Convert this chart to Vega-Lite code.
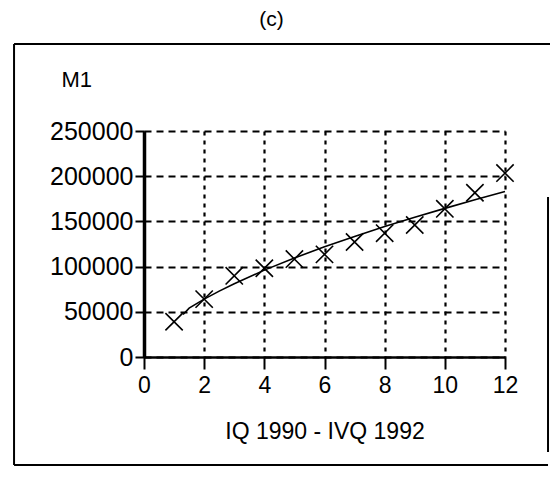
{
  "$schema": "https://vega.github.io/schema/vega-lite/v6.json",
  "autosize": "none",
  "width": 361,
  "height": 226,
  "padding": {"left": 144, "top": 131, "right": 45, "bottom": 121},
  "background": "white",
  "title": {"text": "(c)", "font": "Liberation Sans", "fontSize": 21, "fontWeight": "normal", "color": "black", "anchor": "middle", "dx": -53, "offset": 13},
  "datasets": {
    "obs": [
      {"q": 1, "m1": 39000}, {"q": 2, "m1": 64000}, {"q": 3, "m1": 89800},
      {"q": 4, "m1": 98200}, {"q": 5, "m1": 108300}, {"q": 6, "m1": 113500},
      {"q": 7, "m1": 127200}, {"q": 8, "m1": 137000}, {"q": 9, "m1": 146000},
      {"q": 10, "m1": 163900}, {"q": 11, "m1": 181700}, {"q": 12, "m1": 203500}
    ],
    "fit": [
      {"q": 1.3, "m1": 47000}, {"q": 1.5, "m1": 54000}, {"q": 2, "m1": 64000},
      {"q": 2.5, "m1": 72900}, {"q": 3, "m1": 81100}, {"q": 4, "m1": 96100},
      {"q": 5, "m1": 109500}, {"q": 6, "m1": 121900}, {"q": 7, "m1": 133400},
      {"q": 8, "m1": 144300}, {"q": 9, "m1": 154600}, {"q": 10, "m1": 164400},
      {"q": 11, "m1": 173900}, {"q": 12, "m1": 183000}
    ],
    "frame": [
      {"x": -4.32, "x2": -4.32, "y": 346200, "y2": -119500},
      {"x": -4.32, "x2": 13.5, "y": 346200, "y2": 346200},
      {"x": -4.32, "x2": 13.43, "y": -119500, "y2": -119500},
      {"x": 13.43, "x2": 13.43, "y": 177000, "y2": -105100}
    ]
  },
  "config": {
    "view": {"stroke": null},
    "axis": {"labelFont": "Liberation Sans", "titleFont": "Liberation Sans", "labelColor": "black", "titleColor": "black", "domainColor": "black", "tickColor": "black", "gridColor": "black", "gridOpacity": 1, "titleFontWeight": "normal"}
  },
  "layer": [
    {
      "data": {"name": "frame"},
      "mark": {"type": "rule", "color": "black", "strokeWidth": 2, "clip": false},
      "encoding": {
        "x": {"field": "x", "type": "quantitative", "scale": {"domain": [0, 12], "nice": false, "zero": false}},
        "x2": {"field": "x2"},
        "y": {"field": "y", "type": "quantitative", "scale": {"domain": [0, 250000], "nice": false, "zero": false}},
        "y2": {"field": "y2"}
      }
    },
    {
      "data": {"name": "fit"},
      "mark": {"type": "line", "color": "black", "strokeWidth": 1.6},
      "encoding": {
        "x": {"field": "q", "type": "quantitative",
          "axis": {"values": [0, 2, 4, 6, 8, 10, 12], "title": "IQ 1990 - IVQ 1992", "titleFontSize": 23, "titleY": 74, "titleBaseline": "middle", "labelFontSize": 23, "labelPadding": 5, "tickSize": 12, "tickWidth": 2, "domainWidth": 2.5, "grid": true, "gridDash": [4, 5], "gridWidth": 2.2, "labelFlush": false}},
        "y": {"field": "m1", "type": "quantitative",
          "axis": {"values": [0, 50000, 100000, 150000, 200000, 250000], "format": "d", "title": "M1", "titleFontSize": 22, "titleAngle": 0, "titleAlign": "left", "titleBaseline": "middle", "titleX": -83, "titleY": -52, "labelFontSize": 25, "labelPadding": 2, "tickSize": 9, "tickWidth": 2, "domainWidth": 3.5, "grid": true, "gridDash": [7, 5], "gridWidth": 2, "labelFlush": false}}
      }
    },
    {
      "data": {"name": "obs"},
      "mark": {"type": "point", "shape": "M-1,-1L1,1M-1,1L1,-1", "filled": false, "color": "black", "strokeWidth": 1.6, "size": 300, "opacity": 1},
      "encoding": {
        "x": {"field": "q", "type": "quantitative"},
        "y": {"field": "m1", "type": "quantitative"}
      }
    }
  ]
}
